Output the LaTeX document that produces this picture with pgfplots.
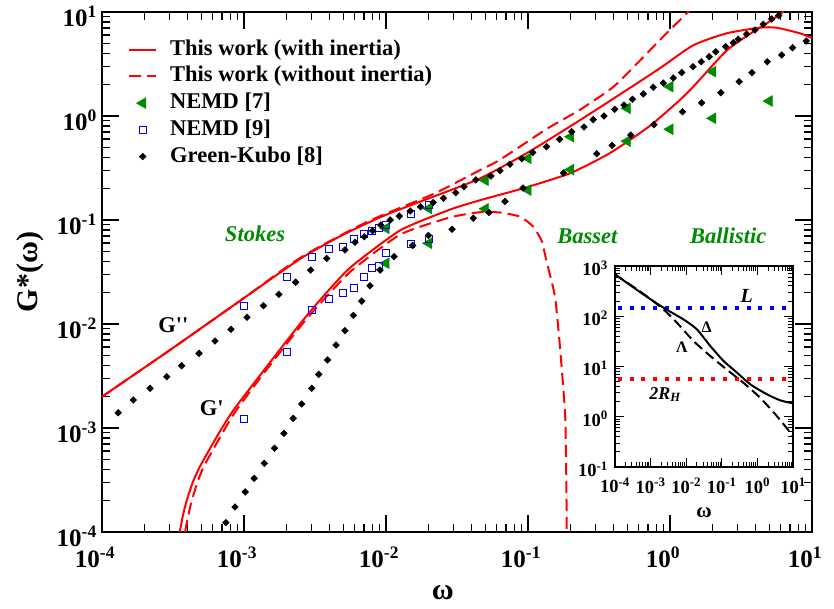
\documentclass[border=0pt]{standalone}
\usepackage{fontspec}
\setmainfont{Liberation Serif}
\usepackage{pgfplots}
\pgfplotsset{compat=1.18}
\definecolor{nemdgreen}{RGB}{0,140,0}
\newcommand{\ex}[1]{10\textsuperscript{#1}}

\pgfplotsset{
  lineleg/.style={legend image code/.code={\draw[##1] (0pt,0pt) -- (27pt,0pt);}},
  markleg/.style={legend image code/.code={\draw[##1] plot coordinates {(13.5pt,0pt)};}},
}

\begin{document}
\begin{tikzpicture}[font=\bfseries]
\begin{axis}[
  at={(0pt,0pt)}, anchor=south west,
  scale only axis, width=710pt, height=520pt,
  xmode=log, ymode=log,
  xmin=1e-4, xmax=10, ymin=1e-4, ymax=10,
  xtick={1e-4,1e-3,1e-2,1e-1,1,10},
  ytick={1e-4,1e-3,1e-2,1e-1,1,10},
  xticklabels={\ex{-4},\ex{-3},\ex{-2},\ex{-1},\ex{0},\ex{1}},
  yticklabels={\ex{-4},\ex{-3},\ex{-2},\ex{-1},\ex{0},\ex{1}},
  minor xtick={2e-4,3e-4,4e-4,5e-4,6e-4,7e-4,8e-4,9e-4,2e-3,3e-3,4e-3,5e-3,6e-3,7e-3,8e-3,9e-3,0.02,0.03,0.04,0.05,0.06,0.07,0.08,0.09,0.2,0.3,0.4,0.5,0.6,0.7,0.8,0.9,2,3,4,5,6,7,8,9},
  minor ytick={2e-4,3e-4,4e-4,5e-4,6e-4,7e-4,8e-4,9e-4,2e-3,3e-3,4e-3,5e-3,6e-3,7e-3,8e-3,9e-3,0.02,0.03,0.04,0.05,0.06,0.07,0.08,0.09,0.2,0.3,0.4,0.5,0.6,0.7,0.8,0.9,2,3,4,5,6,7,8,9},
  tick align=inside,
  major tick length=17pt, minor tick length=8pt,
  every tick/.append style={black, line width=1.3pt},
  axis line style={line width=2pt},
  tick label style={font=\fontsize{25}{25}\selectfont\bfseries},
  xticklabel style={inner sep=0pt, anchor=north, yshift=-15pt, xshift=-7pt},
  yticklabel style={inner sep=0pt, anchor=east, xshift=-5pt, yshift=-4pt},
  xlabel={ω}, ylabel={G*(ω)},
  xlabel style={font=\fontsize{30}{30}\selectfont\bfseries, at={(axis description cs:0.48,-0.117)}, anchor=center},
  ylabel style={font=\fontsize{30}{30}\selectfont\bfseries, at={(axis description cs:-0.1014,0.5)}, anchor=center},
  legend style={at={(0.0366,0.948)}, anchor=north west, draw=none, fill=none, inner sep=0pt,
    font=\fontsize{22.5}{22.5}\selectfont\bfseries,
    nodes={inner sep=0pt, text height=16pt, text depth=5pt},
    row sep=5.7pt, column sep=13pt},
  legend cell align=left,
]
% G'' with inertia
\addplot[red, line width=2pt, smooth, tension=0.4, lineleg] coordinates {
 (1e-4,2.0e-3) (3.162e-4,5.888e-3) (1e-3,1.778e-2) (2.512e-3,4.266e-2) (5.012e-3,7.244e-2)
 (1e-2,0.1122) (2.153e-2,0.1675) (4.592e-2,0.2512) (0.1,0.4467) (0.2323,0.912) (0.4955,1.778)
 (0.851,2.884) (1.459,4.786) (2.506,6.237) (4.305,7.063) (5.636,7.063) (8.222,6.237) (10,5.623)};
\addlegendentry{This work (with inertia)}
% G'' without inertia
\addplot[red, line width=2pt, dash pattern=on 12pt off 6pt, smooth, tension=0.4, lineleg] coordinates {
 (1e-4,2.0e-3) (3.162e-4,5.888e-3) (1e-3,1.778e-2) (2.512e-3,4.365e-2) (7.311e-3,9.550e-2)
 (2.153e-2,0.1778) (4.592e-2,0.302) (6.353e-2,0.380) (0.1352,0.750) (0.2323,1.148)
 (0.399,1.905) (0.631,3.548) (0.895,5.794) (1.312,9.727) (1.35,10.2)};
\addlegendentry{This work (without inertia)}
% G' with inertia
\addplot[red, line width=2pt, smooth, tension=0.35, forget plot] coordinates {
 (3.532e-4,1e-4) (3.715e-4,1.445e-4) (3.945e-4,1.995e-4) (4.365e-4,3.020e-4) (4.898e-4,4.266e-4)
 (6.457e-4,8.318e-4) (8.414e-4,1.479e-3) (1.445e-3,3.890e-3) (2.477e-3,1.0e-2) (3.428e-3,1.698e-2)
 (5.572e-3,3.467e-2) (1.256e-2,7.943e-2) (2.825e-2,0.1259) (4.592e-2,0.1549) (9.268e-2,0.2018)
 (0.1977,0.2812) (0.3581,0.4217) (0.5224,0.5875) (0.7621,0.8511) (1.175,1.426) (1.459,1.914)
 (2.506,4.266) (3.864,6.471) (4.797,7.780) (6.310,10.07)};
% G' without inertia
\addplot[red, line width=2pt, dash pattern=on 12pt off 6pt, smooth, tension=0.35, forget plot] coordinates {
 (3.846e-4,1e-4) (4.027e-4,1.380e-4) (4.246e-4,1.905e-4) (4.677e-4,2.951e-4) (5.212e-4,4.266e-4)
 (6.839e-4,8.318e-4) (8.810e-4,1.479e-3) (1.496e-3,3.890e-3) (2.541e-3,9.772e-3) (3.508e-3,1.622e-2)
 (5.689e-3,3.236e-2) (1.259e-2,7.244e-2) (2.825e-2,0.1059) (4.592e-2,0.1189) (6.353e-2,0.1180)
 (8.790e-2,0.1076) (0.1089,8.630e-2) (0.1247,6.310e-2) (0.1352,3.981e-2) (0.1549,1.832e-2)
 (0.1679,6.053e-3) (0.1824,1.384e-3) (0.1858,3.981e-4) (0.1875,1e-4)};
% NEMD [7]
\addplot[only marks, mark=triangle*, mark size=6.3pt, color=nemdgreen,
  mark options={rotate=90, fill=nemdgreen}, markleg] coordinates {
 (0.01,8.32e-2) (0.01,3.84e-2) (0.02,0.129) (0.02,5.97e-2) (0.05,0.241) (0.05,0.128)
 (0.1,0.392) (0.1,0.194) (0.2,0.632) (0.2,0.305) (0.5,1.186) (0.5,0.573)
 (1,1.914) (1,0.745) (2,2.667) (2,0.951) (5,1.393)};
\addlegendentry{NEMD [7]}
% NEMD [9]
\addplot[only marks, mark=square, mark size=3.5pt, color=blue, line width=1pt, markleg] coordinates {
 (1e-3,1.49e-2) (1e-3,1.21e-3) (2e-3,2.85e-2) (2e-3,5.42e-3) (3e-3,4.38e-2) (3e-3,1.36e-2)
 (4e-3,5.22e-2) (4e-3,1.75e-2) (5e-3,5.50e-2) (5e-3,2.00e-2) (6e-3,6.59e-2) (6e-3,2.20e-2)
 (7e-3,7.30e-2) (7e-3,2.85e-2) (8e-3,7.87e-2) (8e-3,3.49e-2) (9e-3,8.32e-2) (9e-3,3.61e-2)
 (1e-2,8.95e-2) (1e-2,4.79e-2) (1.5e-2,0.114) (1.5e-2,5.87e-2) (2e-2,0.139) (2e-2,6.53e-2)};
\addlegendentry{NEMD [9]}
% Green-Kubo [8], G''
\addplot[only marks, mark=square*, mark size=2.4pt, color=black, mark options={rotate=45}, markleg] coordinates {
 (1.30e-4,1.40e-3) (1.66e-4,1.86e-3) (2.18e-4,2.41e-3) (2.86e-4,3.11e-3) (3.64e-4,3.97e-3)
 (4.82e-4,5.22e-3) (6.25e-4,6.87e-3) (8.09e-4,8.89e-3) (1.05e-3,1.16e-2) (1.37e-3,1.50e-2)
 (1.76e-3,1.93e-2) (2.31e-3,2.52e-2) (2.95e-3,3.30e-2) (3.82e-3,4.27e-2) (5.14e-3,5.15e-2)
 (6.05e-3,6.11e-2) (7.03e-3,6.90e-2) (8.05e-3,7.89e-2) (9.18e-3,8.95e-2) (1.07e-2,0.100)
 (1.24e-2,0.109) (1.48e-2,0.122) (1.75e-2,0.134) (2.15e-2,0.147) (2.54e-2,0.162)
 (3.10e-2,0.183) (3.54e-2,0.209) (4.29e-2,0.243) (5.48e-2,0.265) (6.35e-2,0.298)
 (7.46e-2,0.344) (9.04e-2,0.389) (0.108,0.446) (0.135,0.507) (0.167,0.597)
 (0.203,0.706) (0.248,0.783) (0.288,0.923) (0.343,1.000) (0.408,1.159)
 (0.474,1.276) (0.545,1.449) (0.649,1.629) (0.762,1.888) (0.897,2.075)
 (1.054,2.317) (1.208,2.618) (1.452,2.979) (1.660,3.327) (1.888,3.715)
 (2.099,4.150) (2.466,4.634) (2.793,5.070) (3.027,5.470) (3.467,6.124)
 (3.972,6.714) (4.539,7.621) (5.200,8.570) (5.821,9.247)};
\addlegendentry{Green-Kubo [8]}
% Green-Kubo [8], G'
\addplot[only marks, mark=square*, mark size=2.4pt, color=black, mark options={rotate=45}, forget plot] coordinates {
 (7.46e-4,1.23e-4) (8.65e-4,1.74e-4) (1.02e-3,2.43e-4) (1.18e-3,3.28e-4) (1.39e-3,4.57e-4)
 (1.64e-3,6.38e-4) (1.91e-3,8.89e-4) (2.22e-3,1.24e-3) (2.55e-3,1.70e-3) (3.00e-3,2.41e-3)
 (3.36e-3,3.28e-3) (3.88e-3,4.51e-3) (4.45e-3,6.28e-3) (5.14e-3,8.63e-3) (5.89e-3,1.21e-2)
 (6.75e-3,1.66e-2) (7.71e-3,2.33e-2) (9.08e-3,3.30e-2) (1.14e-2,4.44e-2) (1.54e-2,5.69e-2)
 (1.99e-2,7.10e-2) (2.92e-2,8.15e-2) (4.12e-2,0.104) (5.31e-2,0.118) (6.89e-2,0.151)
 (9.23e-2,0.203) (0.178,0.283) (0.305,0.434) (0.391,0.522) (0.530,0.656)
 (0.771,0.826) (1.225,1.099) (1.671,1.340) (2.280,1.675) (3.069,2.138)
 (3.776,2.606) (4.842,3.327) (6.124,3.864) (7.295,4.539) (9.099,5.260)};
\node[font=\fontsize{22.5}{22.5}\selectfont\bfseries\itshape, text=nemdgreen] at (rel axis cs:0.2155,0.574) {Stokes};
\node[font=\fontsize{22.5}{22.5}\selectfont\bfseries\itshape, text=nemdgreen] at (rel axis cs:0.6835,0.569) {Basset};
\node[font=\fontsize{22.5}{22.5}\selectfont\bfseries\itshape, text=nemdgreen] at (rel axis cs:0.882,0.569) {Ballistic};
\node[font=\fontsize{22.5}{22.5}\selectfont\bfseries] at (rel axis cs:0.1004,0.398) {G\textquotesingle\textquotesingle};
\node[font=\fontsize{22.5}{22.5}\selectfont\bfseries] at (rel axis cs:0.1545,0.238) {G\textquotesingle};
\end{axis}

\begin{axis}[
  at={(513pt,65pt)}, anchor=south west,
  scale only axis, width=178pt, height=201pt,
  axis background/.style={fill=white},
  xmode=log, ymode=log,
  xmin=1e-4, xmax=10, ymin=0.1, ymax=1000,
  xtick={1e-4,1e-3,1e-2,1e-1,1,10},
  ytick={0.1,1,10,100,1000},
  xticklabels={\ex{-4},\ex{-3},\ex{-2},\ex{-1},\ex{0},\ex{1}},
  yticklabels={\ex{-1},\ex{0},\ex{1},\ex{2},\ex{3}},
  minor xtick={2e-4,3e-4,4e-4,5e-4,6e-4,7e-4,8e-4,9e-4,2e-3,3e-3,4e-3,5e-3,6e-3,7e-3,8e-3,9e-3,0.02,0.03,0.04,0.05,0.06,0.07,0.08,0.09,0.2,0.3,0.4,0.5,0.6,0.7,0.8,0.9,2,3,4,5,6,7,8,9},
  minor ytick={0.2,0.3,0.4,0.5,0.6,0.7,0.8,0.9,2,3,4,5,6,7,8,9,20,30,40,50,60,70,80,90,200,300,400,500,600,700,800,900},
  tick align=inside,
  major tick length=9pt, minor tick length=5pt,
  every tick/.append style={black, line width=1pt},
  axis line style={line width=2pt},
  tick label style={font=\fontsize{18.5}{18.5}\selectfont\bfseries},
  xticklabel style={inner sep=0pt, anchor=north, yshift=-11pt},
  yticklabel style={inner sep=0pt, anchor=east, xshift=-7pt, yshift=-2pt},
  xlabel={ω},
  xlabel style={font=\fontsize{21}{21}\selectfont\bfseries, at={(axis description cs:0.5,-0.225)}, anchor=center},
]
\addplot[blue, line width=4pt, dash pattern=on 4pt off 7.7pt] coordinates {(1.2e-4,143) (10,143)};
\addplot[red, line width=4pt, dash pattern=on 4pt off 7.7pt] coordinates {(1.2e-4,5.54) (10,5.54)};
\addplot[black, line width=2pt, smooth, tension=0.4] coordinates {
 (1e-4,680.8) (6.266e-4,272.3) (2.296e-3,147.9) (8.395e-3,86.5) (2.0e-2,54.7) (4.742e-2,25.6)
 (0.1125,12.85) (0.268,7.53) (0.635,4.406) (1.875,2.786) (4.446,2.113) (10,1.845)};
\addplot[black, line width=2pt, dash pattern=on 10pt off 5pt, smooth, tension=0.4] coordinates {
 (1e-4,680.8) (6.266e-4,280) (2.296e-3,136.8) (5.47e-3,74.5) (1.607e-2,32.1) (4.742e-2,16.18)
 (0.140,8.63) (0.411,4.70) (1.216,2.36) (3.589,1.016) (10,0.414)};
\node[font=\fontsize{20}{20}\selectfont\bfseries\itshape] at (rel axis cs:0.740,0.851) {L};
\node[font=\fontsize{16}{16}\selectfont\bfseries] at (rel axis cs:0.515,0.693) {Δ};
\node[font=\fontsize{16}{16}\selectfont\bfseries] at (rel axis cs:0.375,0.597) {Λ};
\node[font=\fontsize{18}{18}\selectfont\bfseries\itshape] at (rel axis cs:0.281,0.361) {2R\textsubscript{H}};
\end{axis}
\pgfresetboundingbox
\useasboundingbox (-102pt,-77pt) rectangle (732pt,532pt);
\end{tikzpicture}
\end{document}
